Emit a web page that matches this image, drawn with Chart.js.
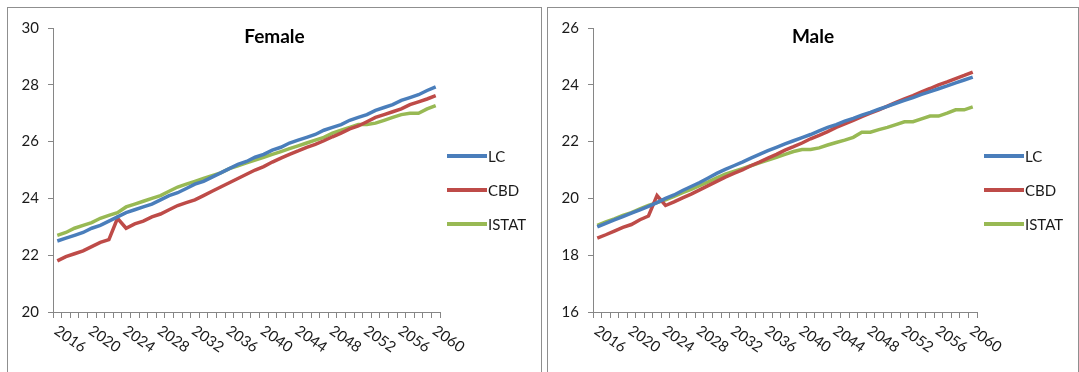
<!DOCTYPE html>
<html lang="en">
<head>
    <meta charset="UTF-8">
    <title>Female / Male</title>
    <script src="https://cdn.jsdelivr.net/npm/chart.js"></script>
    <style>
        body {
            margin: 0;
            background: #ffffff;
            width: 1079px;
            height: 372px;
            overflow: hidden;
            position: relative;
            font-family: Lato, sans-serif;
        }
        .panel {
            position: absolute;
            top: 7px;
            height: 366px;
            border: 1px solid #8f8f8f;
            background: #fff;
        }
        #femalePanel { left: 7px; width: 533px; }
        #malePanel { left: 547px; width: 530px; }
        canvas { display: block; }
    </style>
</head>
<body>
    <div class="panel" id="femalePanel"><canvas id="femaleChart" width="533" height="364"></canvas></div>
    <div class="panel" id="malePanel"><canvas id="maleChart" width="530" height="364"></canvas></div>

    <script>
    // categories
    const years = [2016, 2017, 2018, 2019, 2020, 2021, 2022, 2023, 2024, 2025,
                   2026, 2027, 2028, 2029, 2030, 2031, 2032, 2033, 2034, 2035,
                   2036, 2037, 2038, 2039, 2040, 2041, 2042, 2043, 2044, 2045,
                   2046, 2047, 2048, 2049, 2050, 2051, 2052, 2053, 2054, 2055,
                   2056, 2057, 2058, 2059, 2060];
    const tickLabels = ['2016', '2020', '2024', '2028', '2032', '2036', '2040', '2044', '2048', '2052', '2056', '2060'];
    const seriesNames = ['LC', 'CBD', 'ISTAT'];

    // Female
    const femaleLC = [22.5, 22.6, 22.7, 22.8, 22.95, 23.05, 23.2, 23.35, 23.5, 23.6,
                      23.7, 23.8, 23.95, 24.1, 24.2, 24.35, 24.5, 24.6, 24.75, 24.9,
                      25.05, 25.2, 25.3, 25.45, 25.55, 25.7, 25.8, 25.95, 26.05, 26.15,
                      26.25, 26.4, 26.5, 26.6, 26.75, 26.85, 26.95, 27.1, 27.2, 27.3,
                      27.45, 27.55, 27.65, 27.8, 27.93];
    const femaleCBD = [21.8, 21.95, 22.05, 22.15, 22.3, 22.45, 22.55, 23.3, 22.95, 23.1,
                       23.2, 23.35, 23.45, 23.6, 23.75, 23.85, 23.95, 24.1, 24.25, 24.4,
                       24.55, 24.7, 24.85, 25.0, 25.12, 25.28, 25.42, 25.55, 25.67, 25.8,
                       25.9, 26.03, 26.17, 26.3, 26.45, 26.55, 26.7, 26.85, 26.95, 27.05,
                       27.15, 27.3, 27.4, 27.5, 27.62];
    const femaleISTAT = [22.7, 22.8, 22.95, 23.05, 23.15, 23.3, 23.4, 23.5, 23.7, 23.8,
                         23.9, 24.0, 24.1, 24.25, 24.4, 24.5, 24.6, 24.7, 24.8, 24.9,
                         25.05, 25.15, 25.25, 25.35, 25.45, 25.55, 25.65, 25.75, 25.85, 25.95,
                         26.05, 26.15, 26.3, 26.4, 26.5, 26.6, 26.6, 26.65, 26.75, 26.85,
                         26.95, 27.0, 27.0, 27.15, 27.27];

    // Male
    const maleLC = [19.0, 19.12, 19.24, 19.36, 19.48, 19.6, 19.72, 19.85, 20.0, 20.12,
                    20.28, 20.42, 20.56, 20.72, 20.88, 21.02, 21.15, 21.28, 21.42, 21.55,
                    21.68, 21.8, 21.92, 22.03, 22.14, 22.25, 22.38, 22.5, 22.6, 22.72,
                    22.82, 22.93, 23.03, 23.14, 23.24, 23.35, 23.45, 23.55, 23.66, 23.76,
                    23.86, 23.96, 24.07, 24.17, 24.27];
    const maleCBD = [18.6, 18.72, 18.85, 18.98, 19.08, 19.25, 19.38, 20.1, 19.75, 19.88,
                     20.02, 20.15, 20.3, 20.45, 20.6, 20.75, 20.88, 21.0, 21.15, 21.28,
                     21.42, 21.55, 21.7, 21.82, 21.95, 22.1, 22.22, 22.35, 22.5, 22.62,
                     22.75, 22.88, 23.0, 23.12, 23.25, 23.38, 23.5, 23.62, 23.75, 23.87,
                     24.0, 24.1, 24.22, 24.33, 24.45];
    const maleISTAT = [19.05, 19.17, 19.28, 19.4, 19.5, 19.63, 19.75, 19.85, 19.95, 20.07,
                       20.2, 20.32, 20.45, 20.58, 20.72, 20.85, 20.95, 21.05, 21.15, 21.25,
                       21.35, 21.45, 21.55, 21.65, 21.72, 21.72, 21.78, 21.88, 21.97, 22.05,
                       22.15, 22.33, 22.33, 22.42, 22.5, 22.6, 22.7, 22.7, 22.8, 22.9,
                       22.9, 23.0, 23.12, 23.12, 23.22];

    const colors = ['#4a7ebb', '#be4b48', '#98b954'];
    const axisColor = '#868686';
    const textColor = '#1a1a1a';

    // title, slanted year labels and legend (Excel style)
    const panelDeco = {
        id: 'panelDeco',
        afterDraw(chart, args, opts) {
            const ctx = chart.ctx;
            const area = chart.chartArea;
            const xScale = chart.scales.x;
            ctx.save();

            ctx.font = 'bold 19px Lato, sans-serif';
            ctx.fillStyle = '#000';
            ctx.textAlign = 'center';
            ctx.textBaseline = 'middle';
            ctx.fillText(opts.title, chart.width / 2, 29);

            ctx.font = '15px Lato, sans-serif';
            ctx.fillStyle = textColor;
            ctx.textAlign = 'left';
            ctx.textBaseline = 'top';
            tickLabels.forEach(lab => {
                const px = xScale.getPixelForValue(years.indexOf(Number(lab)));
                ctx.save();
                ctx.translate(px + 3, area.bottom + 11);
                ctx.rotate(35 * Math.PI / 180);
                ctx.fillText(lab, 0, 0);
                ctx.restore();
            });

            ctx.textBaseline = 'middle';
            chart.data.datasets.forEach((ds, i) => {
                const y = chart.height / 2 + (i - 1) * 34;
                ctx.strokeStyle = ds.borderColor;
                ctx.lineWidth = 4;
                ctx.beginPath();
                ctx.moveTo(area.right + 7, y);
                ctx.lineTo(area.right + 47, y);
                ctx.stroke();
                ctx.fillText(ds.label, area.right + 48, y + 1);
            });
            ctx.restore();
        }
    };

    function makeChart(id, title, yMin, yMax, lc, cbd, istat) {
        const values = [lc, cbd, istat];
        new Chart(document.getElementById(id), {
            type: 'line',
            data: {
                labels: years,
                datasets: seriesNames.map((name, i) => ({
                    label: name,
                    data: values[i],
                    borderColor: colors[i],
                    borderWidth: 3.5,
                    pointRadius: 0,
                    tension: 0,
                    fill: false
                }))
            },
            options: {
                responsive: false,
                animation: false,
                layout: { padding: { top: 20, right: 101, bottom: 0, left: 0 } },
                plugins: {
                    legend: { display: false },
                    tooltip: { enabled: false },
                    panelDeco: { title: title }
                },
                scales: {
                    x: {
                        type: 'category',
                        offset: true,
                        grid: { drawOnChartArea: false, offset: true, tickLength: 6, color: axisColor },
                        border: { color: axisColor },
                        ticks: { display: false },
                        afterFit(s) { s.height = 60; }
                    },
                    y: {
                        min: yMin,
                        max: yMax,
                        grid: { drawOnChartArea: false, tickLength: 5, color: axisColor },
                        border: { color: axisColor },
                        ticks: {
                            stepSize: 2,
                            padding: 9,
                            color: textColor,
                            font: { family: 'Lato, sans-serif', size: 15 }
                        },
                        afterFit(s) { s.width = 45; }
                    }
                }
            },
            plugins: [panelDeco]
        });
    }

    makeChart('femaleChart', 'Female', 20, 30, femaleLC, femaleCBD, femaleISTAT);
    makeChart('maleChart', 'Male', 16, 26, maleLC, maleCBD, maleISTAT);
    </script>
</body>
</html>
